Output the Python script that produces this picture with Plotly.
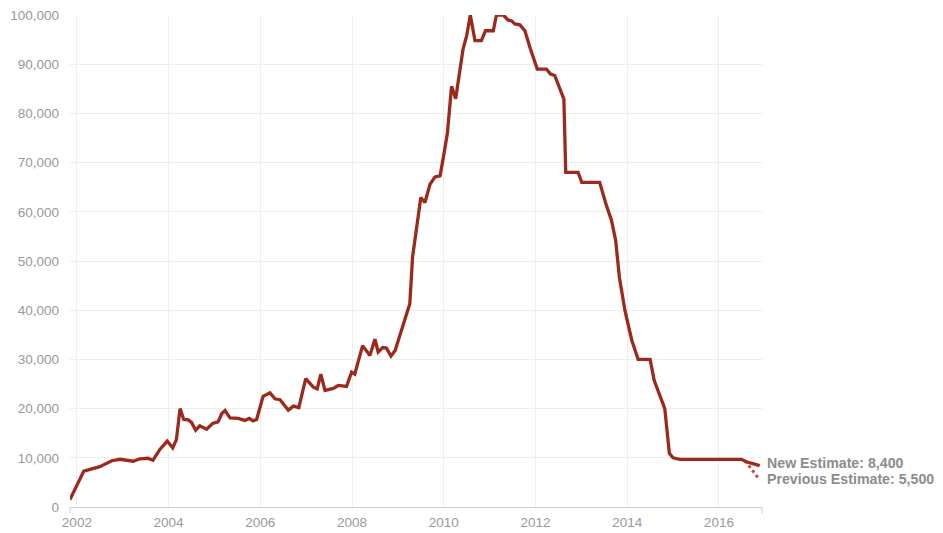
import plotly.graph_objects as go

# Main series (decimal year, value)
years = [2001.85, 2002.15, 2002.50, 2002.76, 2002.94, 2003.23, 2003.37, 2003.55, 2003.66, 2003.81,
         2003.97, 2004.09, 2004.17, 2004.25, 2004.33, 2004.43, 2004.50, 2004.59, 2004.68, 2004.83,
         2004.96, 2005.08, 2005.16, 2005.23, 2005.34, 2005.52, 2005.66, 2005.76, 2005.84, 2005.92,
         2006.06, 2006.21, 2006.32, 2006.43, 2006.61, 2006.72, 2006.84, 2006.99, 2007.15, 2007.24,
         2007.32, 2007.41, 2007.59, 2007.70, 2007.88, 2007.99, 2008.06, 2008.23, 2008.39, 2008.50,
         2008.57, 2008.67, 2008.75, 2008.85, 2008.94, 2009.04, 2009.26, 2009.32, 2009.41, 2009.50,
         2009.59, 2009.70, 2009.81, 2009.92, 2009.99, 2010.08, 2010.17, 2010.26, 2010.42, 2010.50,
         2010.58, 2010.68, 2010.82, 2010.91, 2011.08, 2011.15, 2011.30, 2011.40, 2011.48, 2011.55,
         2011.66, 2011.77, 2011.89, 2011.99, 2012.04, 2012.24, 2012.33, 2012.42, 2012.57, 2012.62,
         2012.66, 2012.93, 2013.01, 2013.40, 2013.55, 2013.66, 2013.75, 2013.83, 2013.95, 2014.10,
         2014.24, 2014.50, 2014.59, 2014.70, 2014.82, 2014.92, 2015.00, 2015.15, 2016.49, 2016.60,
         2016.89]
values = [1500, 7300, 8200, 9400, 9700, 9300, 9800, 9900, 9500, 11700,
          13400, 12000, 13700, 20000, 17800, 17700, 17200, 15600, 16500, 15800,
          17000, 17300, 19000, 19600, 18100, 18000, 17600, 18000, 17500, 17800,
          22500, 23200, 22000, 21800, 19700, 20500, 20200, 26100, 24400, 24000,
          27000, 23700, 24100, 24700, 24500, 27400, 27000, 32800, 30800, 34100,
          31500, 32400, 32300, 30700, 31800, 34900, 41300, 50800, 57500, 62900,
          61900, 65600, 67100, 67300, 71000, 76000, 85500, 83000, 93000, 95800,
          100000, 94800, 94800, 96800, 96800, 100000, 100000, 99000, 98800, 98200,
          98000, 96800, 93100, 90000, 89000, 89000, 88000, 87700, 84300, 82900,
          68000, 68000, 66000, 66000, 61200, 58200, 54100, 46700, 40000, 33900,
          30000, 30000, 25700, 23000, 20000, 10900, 10000, 9700, 9700, 9200,
          8400]

# Previous estimate (dotted)
prev_years = [2016.57, 2016.89]
prev_values = [9400, 5500]

labels = ["New Estimate: 8,400", "Previous Estimate: 5,500"]

tick_years = [2002, 2004, 2006, 2008, 2010, 2012, 2014, 2016]
tick_values = [0, 10000, 20000, 30000, 40000, 50000, 60000, 70000, 80000, 90000, 100000]

LINE = "#9c2a1c"
FONT = "Arial, Liberation Sans, sans-serif"

fig = go.Figure()
fig.add_trace(go.Scatter(x=prev_years, y=prev_values, mode="lines",
                         line=dict(color="#c9493a", width=3, dash="dot"),
                         hoverinfo="skip", showlegend=False, cliponaxis=False))
fig.add_trace(go.Scatter(x=years, y=values, mode="lines",
                         line=dict(color=LINE, width=3.3),
                         showlegend=False, cliponaxis=False))

fig.add_annotation(x=years[-1], y=values[-1], text="<b>%s</b>" % labels[0],
                   xanchor="left", yanchor="middle", xshift=5, yshift=3, showarrow=False,
                   font=dict(family=FONT, size=14.2, color="#8c8c8c"))
fig.add_annotation(x=prev_years[-1], y=prev_values[-1], text="<b>%s</b>" % labels[1],
                   xanchor="left", yanchor="middle", xshift=5, yshift=1, showarrow=False,
                   font=dict(family=FONT, size=14.2, color="#8c8c8c"))

# small tick marks at axis ends
for px in (0, 1):
    fig.add_shape(type="line", xref="paper", yref="paper", x0=px, x1=px, y0=0, y1=-0.013,
                  line=dict(color="#cccccc", width=1))

fig.update_layout(
    width=943, height=533,
    margin=dict(l=70, r=181, t=15, b=26),
    paper_bgcolor="white", plot_bgcolor="white",
    font=dict(family=FONT, size=13.5, color="#999999"),
    xaxis=dict(range=[2001.85, 2016.94], tickvals=tick_years,
               ticktext=[str(t) for t in tick_years],
               showgrid=True, gridcolor="#eeeeee", gridwidth=1,
               showline=True, linecolor="#cccccc", linewidth=1,
               zeroline=False, ticks="", ticklabelstandoff=3, automargin=False,
               ticklabeloverflow="allow",
               tickfont=dict(size=13.5, color="#999999")),
    yaxis=dict(range=[0, 100000], tickvals=tick_values,
               tickformat=",d", showgrid=True, gridcolor="#eeeeee", gridwidth=1,
               zeroline=False, showline=False, ticks="", ticklabelstandoff=10, automargin=False,
               ticklabeloverflow="allow",
               tickfont=dict(size=13.5, color="#999999")),
)

fig.write_html("out.html", config={"displayModeBar": False},
               post_script="document.body.style.margin='0';document.body.style.overflow='hidden';")
